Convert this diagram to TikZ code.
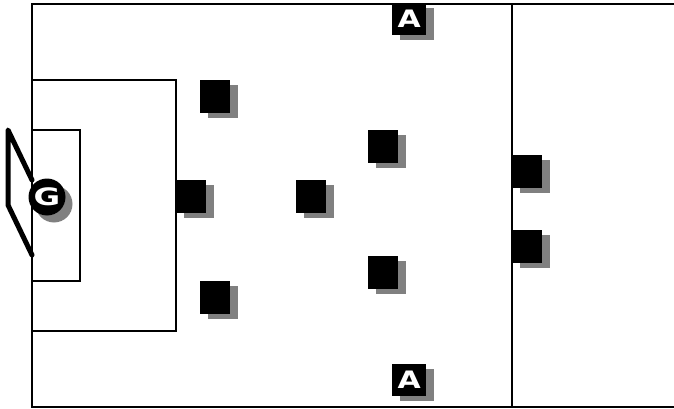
\documentclass[tikz,border=0pt]{standalone}
\usepackage{fontspec}
\setmainfont{Liberation Sans}
\newfontfamily\markfont{DejaVu Sans}
\usetikzlibrary{shadows}
\definecolor{shade}{RGB}{128,128,128}
\newcommand{\wideletter}[2]{\makebox[0pt]{\scalebox{#1}[1]{#2}}}
\tikzset{
  player/.style={fill=black, inner sep=0pt, minimum width=30pt, minimum height=33pt, anchor=north west,
    drop shadow={shadow xshift=8pt, shadow yshift=-5pt, fill=shade, opacity=1}},
  attacker/.style={player, minimum width=34pt, minimum height=32pt, text=white,
    font=\markfont\bfseries\fontsize{24}{24}\selectfont},
  keeper/.style={circle, fill=black, inner sep=0pt, minimum size=37pt, text=white,
    font=\markfont\bfseries\fontsize{24}{24}\selectfont,
    drop shadow={shadow xshift=7pt, shadow yshift=-7pt, fill=shade, opacity=1}},
  line/.style={line width=2pt}
}
\begin{document}
\begin{tikzpicture}[x=1pt,y=-1pt]
\useasboundingbox (0,0) rectangle (674,409);

% field
\draw[line] (674,4) -- (32,4) -- (32,407) -- (674,407);
\draw[line] (512,4) -- (512,407);
\draw[line] (32,80) -- (176,80) -- (176,331) -- (32,331);
\draw[line] (32,130) -- (80,130) -- (80,281) -- (32,281);

% goal
\draw[line width=5pt, line cap=round, line join=round] (32,180) -- (8,130) -- (8,205) -- (32,255);

% players
\node[player] (p1) at (200,80) {};
\node[player] (p2) at (176,180) {};
\node[player] (p3) at (296,180) {};
\node[player] (p4) at (200,281) {};
\node[player] (p5) at (368,130) {};
\node[player] (p6) at (368,256) {};
\node[player] (p7) at (512,155) {};
\node[player] (p8) at (512,230) {};

\node[attacker] (a1) at (392,3) {\wideletter{1.25}{A}};
\node[attacker] (a2) at (392,364) {\wideletter{1.25}{A}};

\node[keeper] (g) at (47,197) {\wideletter{1.35}{G}};
\end{tikzpicture}
\end{document}
